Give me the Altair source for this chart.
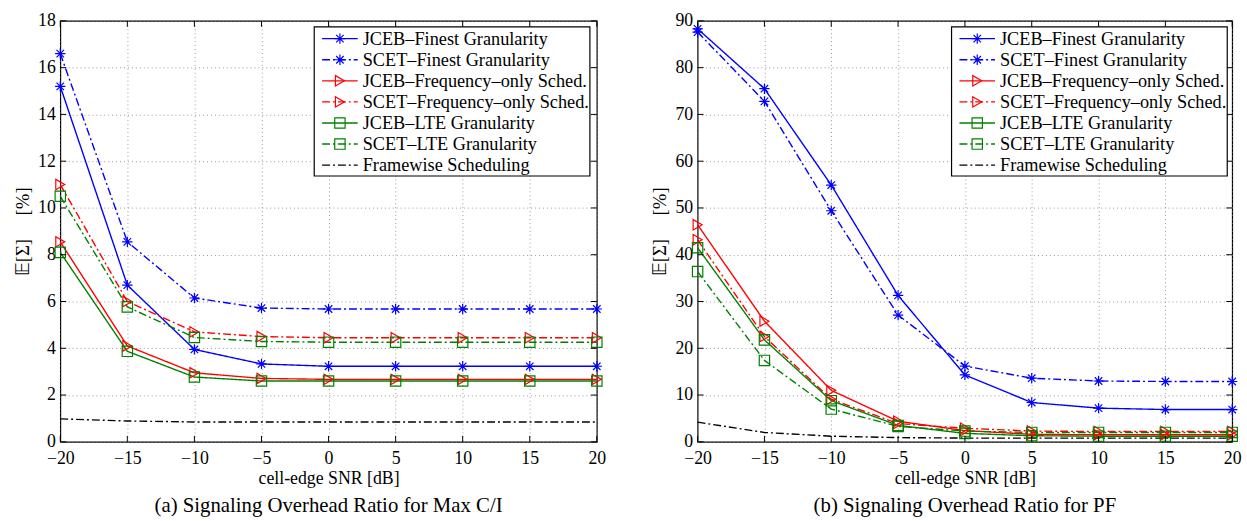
import altair as alt
import pandas as pd

snr = [-20, -15, -10, -5, 0, 5, 10, 15, 20]

names = [
    "JCEB–Finest Granularity",
    "SCET–Finest Granularity",
    "JCEB–Frequency–only Sched.",
    "SCET–Frequency–only Sched.",
    "JCEB–LTE Granularity",
    "SCET–LTE Granularity",
    "Framewise Scheduling",
]

# (a) Max C/I
a_jceb_fine = [15.2, 6.7, 3.95, 3.33, 3.23, 3.23, 3.23, 3.23, 3.23]
a_scet_fine = [16.6, 8.55, 6.15, 5.72, 5.68, 5.68, 5.68, 5.68, 5.68]
a_jceb_freq = [8.55, 4.1, 2.95, 2.71, 2.67, 2.67, 2.67, 2.67, 2.67]
a_scet_freq = [11.0, 6.0, 4.7, 4.5, 4.45, 4.45, 4.45, 4.45, 4.45]
a_jceb_lte = [8.1, 3.87, 2.77, 2.6, 2.6, 2.6, 2.6, 2.6, 2.6]
a_scet_lte = [10.5, 5.77, 4.46, 4.29, 4.26, 4.26, 4.26, 4.26, 4.26]
a_frame = [0.98, 0.89, 0.85, 0.85, 0.85, 0.85, 0.85, 0.85, 0.85]

# (b) PF
b_jceb_fine = [88.3, 75.5, 54.9, 31.3, 14.3, 8.4, 7.2, 6.9, 6.9]
b_scet_fine = [87.6, 72.8, 49.4, 27.1, 16.2, 13.6, 13.0, 12.9, 12.9]
b_jceb_freq = [46.4, 25.8, 11.0, 4.4, 2.4, 1.6, 1.5, 1.5, 1.5]
b_scet_freq = [43.2, 22.5, 9.1, 3.9, 2.9, 2.3, 2.2, 2.2, 2.2]
b_jceb_lte = [41.5, 21.8, 8.8, 3.5, 1.8, 1.3, 1.2, 1.2, 1.2]
b_scet_lte = [36.4, 17.4, 7.0, 3.3, 2.3, 2.0, 2.0, 2.0, 2.0]
b_frame = [4.2, 2.0, 1.2, 0.9, 0.8, 0.8, 0.8, 0.8, 0.8]

a_yticks = [0, 2, 4, 6, 8, 10, 12, 14, 16, 18]
b_yticks = [0, 10, 20, 30, 40, 50, 60, 70, 80, 90]

colors = ["#0000ff", "#0000ff", "#ff0000", "#ff0000", "#008000", "#008000", "#000000"]
dd = [8, 3, 2, 3]
dashes = [[1, 0], dd, [1, 0], dd, [1, 0], dd, dd]
asterisk = "M-1,0L1,0M0,-1L0,1M-0.72,-0.72L0.72,0.72M-0.72,0.72L0.72,-0.72"
shapes = [asterisk, asterisk, "triangle-right", "triangle-right", "square", "square"]
sizes = [110, 110, 140, 140, 75, 75]

H = 426
FONT = "Liberation Serif"


def panel(series_vals, ymax, yticks, caption, W):
    rows = []
    for n, vals in zip(names, series_vals):
        for x, v in zip(snr, vals):
            rows.append({"snr": x, "val": v, "series": n})
    df = pd.DataFrame(rows)
    xs = alt.Scale(domain=[-20, 20], nice=False, zero=False)
    ys = alt.Scale(domain=[0, ymax], nice=False)
    color = alt.Color("series:N", scale=alt.Scale(domain=names, range=colors), legend=None)
    dash = alt.StrokeDash("series:N", scale=alt.Scale(domain=names, range=dashes), legend=None)
    shape = alt.Shape("series:N", scale=alt.Scale(domain=names[:6], range=shapes), legend=None)
    size = alt.Size("series:N", scale=alt.Scale(domain=names[:6], range=sizes), legend=None)
    nofw = alt.datum.series != "Framewise Scheduling"

    xenc = alt.X("snr:Q", scale=xs, axis=alt.Axis(values=snr, title="cell-edge SNR [dB]",
                                                    labelFlush=False, labelPadding=8,
                                                    titlePadding=2))
    yenc = alt.Y("val:Q", scale=ys, axis=alt.Axis(
        values=yticks, title="𝔼[Σ]\u00a0\u00a0\u00a0\u00a0\u00a0[%]",
        titleFontSize=19, titlePadding=5))

    base = alt.Chart(df)
    lines = base.mark_line(strokeWidth=1.4).encode(
        x=xenc, y=yenc, color=color, strokeDash=dash, detail="series:N", order="snr:Q"
    )
    points = base.transform_filter(nofw).mark_point(filled=False, strokeWidth=1.2, opacity=1).encode(
        x=alt.X("snr:Q", scale=xs), y=alt.Y("val:Q", scale=ys), color=color, shape=shape, size=size
    )
    ydf = pd.DataFrame({"val": yticks})
    xdf = pd.DataFrame({"snr": snr})
    lt = alt.Chart(ydf).mark_rule(color="black", strokeWidth=1).encode(
        y=alt.Y("val:Q", scale=ys), x=alt.value(0), x2=alt.value(6))
    rt = alt.Chart(ydf).mark_rule(color="black", strokeWidth=1).encode(
        y=alt.Y("val:Q", scale=ys), x=alt.value(W - 6), x2=alt.value(W))
    bt = alt.Chart(xdf).mark_rule(color="black", strokeWidth=1).encode(
        x=alt.X("snr:Q", scale=xs), y=alt.value(H - 6), y2=alt.value(H))
    tt = alt.Chart(xdf).mark_rule(color="black", strokeWidth=1).encode(
        x=alt.X("snr:Q", scale=xs), y=alt.value(0), y2=alt.value(6))
    data_group = alt.layer(lines, points, lt, rt, bt, tt)

    leg_df = pd.DataFrame({"series": names, "row": list(range(len(names)))})
    ly = alt.Y("row:Q", scale=alt.Scale(domain=[0, 6], range=[18, 146], nice=False, zero=False), axis=None)
    box = alt.Chart(pd.DataFrame({"k": [0]})).mark_rect(
        fill="white", stroke="black", strokeWidth=1.2
    ).encode(x=alt.value(257), x2=alt.value(536), y=alt.value(6), y2=alt.value(157))
    leg_lines = alt.Chart(leg_df).mark_rule(strokeWidth=1.4).encode(
        x=alt.value(265), x2=alt.value(301), y=ly, color=color, strokeDash=dash)
    leg_pts = alt.Chart(leg_df).transform_filter(nofw).mark_point(
        filled=False, strokeWidth=1.2, opacity=1).encode(
        x=alt.value(283), y=ly, color=color, shape=shape, size=size)
    leg_txt = alt.Chart(leg_df).mark_text(
        align="left", baseline="middle", font=FONT, fontSize=18.5, color="black"
    ).encode(x=alt.value(306), y=ly, text="series:N")
    legend_group = alt.layer(box, leg_lines, leg_pts, leg_txt)

    return alt.layer(data_group, legend_group).resolve_scale(y="independent").properties(
        width=W, height=H,
        title=alt.TitleParams(caption, orient="bottom", offset=8, anchor="middle"),
    )


pa = panel([a_jceb_fine, a_scet_fine, a_jceb_freq, a_scet_freq, a_jceb_lte, a_scet_lte, a_frame],
           18, a_yticks, "(a) Signaling Overhead Ratio for Max C/I", 543)
pb = panel([b_jceb_fine, b_scet_fine, b_jceb_freq, b_scet_freq, b_jceb_lte, b_scet_lte, b_frame],
           90, b_yticks, "(b) Signaling Overhead Ratio for PF", 541)

chart = alt.hconcat(pa, pb, spacing=44).properties(
    padding={"left": 13, "top": 8, "right": 5, "bottom": 0},
    background="white",
).configure_view(stroke="black", strokeWidth=1.2).configure_axis(
    labelFont=FONT, labelFontSize=18, labelColor="black",
    titleFont=FONT, titleFontSize=18, titleFontWeight="normal", titleColor="black",
    grid=True, gridColor="#808080", gridDash=[1, 3], gridWidth=0.8,
    ticks=False, domain=False, labelPadding=5,
).configure_title(font=FONT, fontSize=21, fontWeight="normal", color="black")

chart.save("out.html", embed_options={"renderer": "svg", "actions": False})
